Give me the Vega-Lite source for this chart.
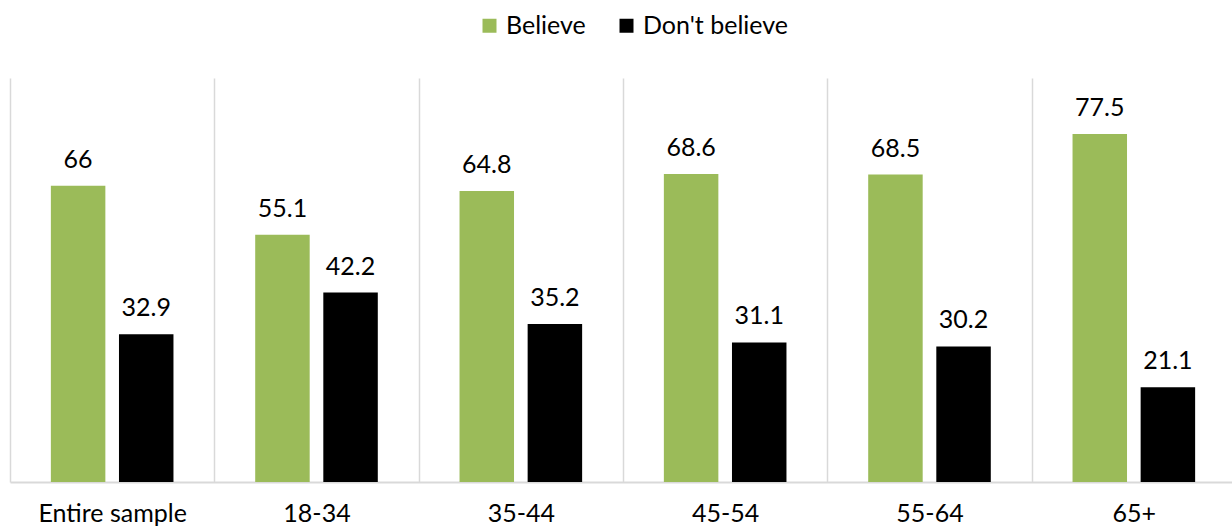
{
  "$schema": "https://vega.github.io/schema/vega-lite/v6.json",
  "width": 1226,
  "height": 404,
  "autosize": "none",
  "padding": {"left": 10, "top": 78, "right": 0, "bottom": 47},
  "background": "white",
  "config": {"view": {"stroke": null}, "font": "Lato"},
  "data": {
    "values": [
      {"group": "Entire sample", "series": "Believe", "value": 66},
      {"group": "Entire sample", "series": "Don't believe", "value": 32.9},
      {"group": "18-34", "series": "Believe", "value": 55.1},
      {"group": "18-34", "series": "Don't believe", "value": 42.2},
      {"group": "35-44", "series": "Believe", "value": 64.8},
      {"group": "35-44", "series": "Don't believe", "value": 35.2},
      {"group": "45-54", "series": "Believe", "value": 68.6},
      {"group": "45-54", "series": "Don't believe", "value": 31.1},
      {"group": "55-64", "series": "Believe", "value": 68.5},
      {"group": "55-64", "series": "Don't believe", "value": 30.2},
      {"group": "65+", "series": "Believe", "value": 77.5},
      {"group": "65+", "series": "Don't believe", "value": 21.1}
    ]
  },
  "encoding": {
    "x": {
      "field": "group",
      "type": "nominal",
      "sort": ["Entire sample", "18-34", "35-44", "45-54", "55-64", "65+"],
      "scale": {"paddingInner": 0, "paddingOuter": 0},
      "axis": {
        "title": null,
        "labelAngle": 0,
        "tickBand": "extent",
        "grid": true,
        "gridColor": "#D9D9D9",
        "gridWidth": 1.5,
        "ticks": false,
        "domainColor": "#D9D9D9",
        "domainWidth": 2,
        "labelFontSize": 25,
        "labelFont": "Lato",
        "labelColor": "#000000",
        "labelPadding": 19
      }
    },
    "xOffset": {
      "field": "series",
      "type": "nominal",
      "sort": ["Believe", "Don't believe"],
      "scale": {"paddingInner": 0.2, "paddingOuter": 0.6}
    },
    "y": {
      "field": "value",
      "type": "quantitative",
      "scale": {"domain": [0, 90]},
      "axis": null
    }
  },
  "layer": [
    {
      "mark": {"type": "bar"},
      "encoding": {
        "color": {
          "field": "series",
          "type": "nominal",
          "scale": {"domain": ["Believe", "Don't believe"], "range": ["#9BBB59", "#000000"]},
          "legend": {
            "title": null,
            "orient": "none",
            "direction": "horizontal",
            "legendX": 467,
            "legendY": -65,
            "symbolType": "square",
            "symbolSize": 196,
            "symbolStrokeWidth": 0,
            "labelFontSize": 25,
            "labelFont": "Lato",
            "labelColor": "#000000",
            "labelOffset": 4,
            "columnPadding": 28
          }
        }
      }
    },
    {
      "mark": {"type": "text", "dy": -18, "baseline": "alphabetic", "fontSize": 25, "font": "Lato", "color": "#000000"},
      "encoding": {
        "text": {"field": "value", "type": "quantitative"}
      }
    }
  ]
}
